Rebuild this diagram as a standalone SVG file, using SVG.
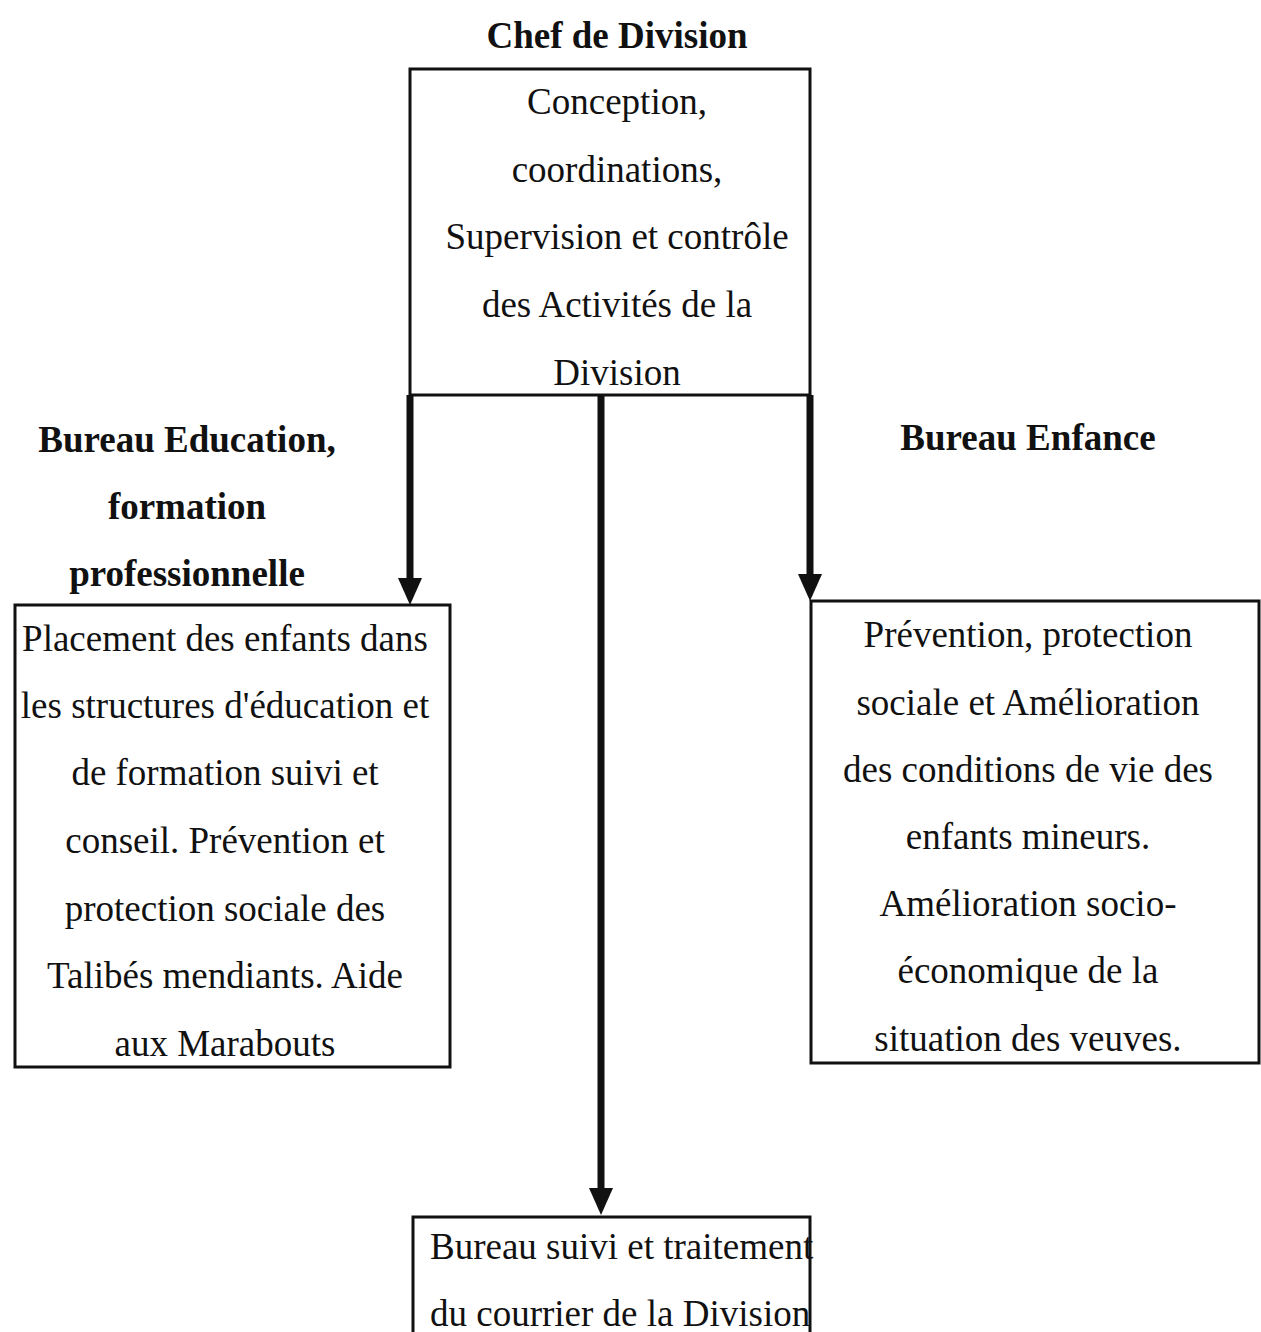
<svg xmlns="http://www.w3.org/2000/svg" width="1261" height="1332" viewBox="0 0 1261 1332">
<style>
.box{fill:#fff;stroke:#111;stroke-width:3}
.t{font-family:"Liberation Serif","Times New Roman",serif;font-size:37px;fill:#111}
.c{text-anchor:middle}
.b{font-weight:bold;font-size:37px}
.con{stroke:#111;stroke-width:7;fill:none}
</style>
<rect width="1261" height="1332" fill="#fff"/>
<g id="chef">
<text class="t c b" x="617" y="48">Chef de Division</text>
<rect class="box" x="410" y="69" width="400" height="326"/>
<text class="t c" x="617" y="114">Conception,</text>
<text class="t c" x="617" y="182">coordinations,</text>
<text class="t c" x="617" y="249">Supervision et contrôle</text>
<text class="t c" x="617" y="317">des Activités de la</text>
<text class="t c" x="617" y="385">Division</text>
</g>
<g id="education">
<text class="t c b" x="187" y="452">Bureau Education,</text>
<text class="t c b" x="187" y="519">formation</text>
<text class="t c b" x="187" y="586">professionnelle</text>
<rect class="box" x="15" y="605" width="435" height="462"/>
<text class="t c" x="225" y="651">Placement des enfants dans</text>
<text class="t c" x="225" y="718">les structures d'éducation et</text>
<text class="t c" x="225" y="785">de formation suivi et</text>
<text class="t c" x="225" y="853">conseil. Prévention et</text>
<text class="t c" x="225" y="921">protection sociale des</text>
<text class="t c" x="225" y="988">Talibés mendiants. Aide</text>
<text class="t c" x="225" y="1056">aux Marabouts</text>
</g>
<g id="enfance">
<text class="t c b" x="1028" y="450">Bureau Enfance</text>
<rect class="box" x="811" y="601" width="448" height="462"/>
<text class="t c" x="1028" y="647">Prévention, protection</text>
<text class="t c" x="1028" y="715">sociale et Amélioration</text>
<text class="t c" x="1028" y="782">des conditions de vie des</text>
<text class="t c" x="1028" y="849">enfants mineurs.</text>
<text class="t c" x="1028" y="916">Amélioration socio-</text>
<text class="t c" x="1028" y="983">économique de la</text>
<text class="t c" x="1028" y="1051">situation des veuves.</text>
</g>
<g id="courrier">
<rect class="box" x="413" y="1217" width="397" height="130"/>
<text class="t" x="430" y="1259">Bureau suivi et traitement</text>
<text class="t" x="430" y="1326">du courrier de la Division</text>
</g>
<g id="connectors">
<path class="con" d="M410,395 V580"/>
<path d="M398,578 L422,578 L410,605 Z" fill="#111"/>
<path class="con" d="M601,395 V1190"/>
<path d="M589,1188 L613,1188 L601,1215 Z" fill="#111"/>
<path class="con" d="M810,395 V576"/>
<path d="M798,574 L822,574 L810,601 Z" fill="#111"/>
</g>
</svg>
